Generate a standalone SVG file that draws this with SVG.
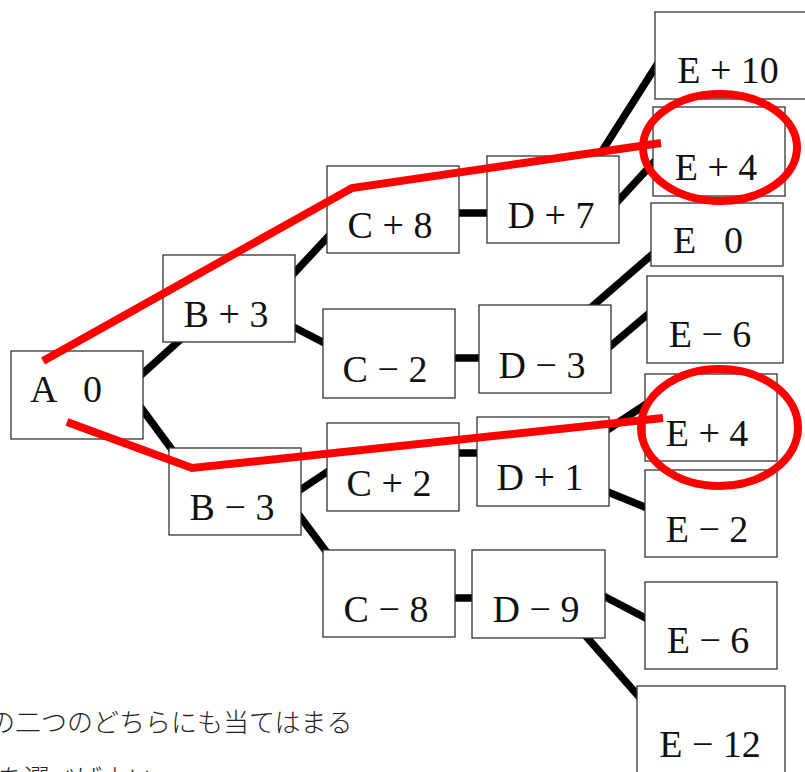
<svg xmlns="http://www.w3.org/2000/svg" width="805" height="772" viewBox="0 0 805 772">
<style>
.box{fill:#fff;stroke:#333;stroke-width:1.3}
.lbl{font-family:"Liberation Serif","Noto Sans CJK JP",serif;font-size:38px;fill:#111;text-anchor:middle}
.lbl0{font-family:"Liberation Serif","Noto Sans CJK JP",serif;font-size:38px;fill:#111}
.con line{stroke:#000;stroke-width:7.5}
.red{fill:none;stroke:#ff0000;stroke-width:8}
.jp{font-family:"Noto Sans CJK JP",sans-serif;font-size:26px;fill:#222;font-weight:300}
</style>
<g id="connectors" class="con">
<line x1="130" y1="385" x2="190" y2="331"/>
<line x1="131" y1="394" x2="184" y2="466"/>
<line x1="283" y1="285" x2="339" y2="225"/>
<line x1="280" y1="320" x2="338" y2="350"/>
<line x1="450" y1="213" x2="495" y2="213"/>
<line x1="445" y1="358" x2="490" y2="358"/>
<line x1="590" y1="170" x2="665" y2="52"/>
<line x1="607" y1="213" x2="665" y2="150"/>
<line x1="580" y1="317" x2="662" y2="246"/>
<line x1="600" y1="355" x2="660" y2="304"/>
<line x1="288" y1="498" x2="339" y2="464"/>
<line x1="290" y1="503" x2="334" y2="562"/>
<line x1="450" y1="453" x2="485" y2="453"/>
<line x1="598" y1="436" x2="657" y2="397"/>
<line x1="598" y1="488" x2="657" y2="512"/>
<line x1="445" y1="598" x2="480" y2="598"/>
<line x1="594" y1="591" x2="657" y2="624"/>
<line x1="577" y1="626" x2="648" y2="707"/>
</g>
<g id="nA"><rect class="box" x="11" y="351" width="132" height="88"/><text class="lbl0" y="402"><tspan x="30">A</tspan><tspan x="83">0</tspan></text></g>
<g id="nBp3"><rect class="box" x="163" y="255" width="132" height="87"/><text class="lbl" x="226" y="327">B + 3</text></g>
<g id="nBm3"><rect class="box" x="169" y="448" width="132" height="87"/><text class="lbl" x="232" y="520">B − 3</text></g>
<g id="nCp8"><rect class="box" x="327" y="166" width="132" height="87"/><text class="lbl" x="390" y="238">C + 8</text></g>
<g id="nCm2"><rect class="box" x="323" y="309" width="132" height="89"/><text class="lbl" x="385" y="382">C − 2</text></g>
<g id="nCp2"><rect class="box" x="327" y="423" width="132" height="88"/><text class="lbl" x="389" y="496">C + 2</text></g>
<g id="nCm8"><rect class="box" x="323" y="550" width="132" height="87"/><text class="lbl" x="386" y="622">C − 8</text></g>
<g id="nDp7"><rect class="box" x="487" y="156" width="132" height="87"/><text class="lbl" x="551" y="228">D + 7</text></g>
<g id="nDm3"><rect class="box" x="479" y="305" width="132" height="88"/><text class="lbl" x="542" y="378">D − 3</text></g>
<g id="nDp1"><rect class="box" x="477" y="417" width="132" height="89"/><text class="lbl" x="540" y="490">D + 1</text></g>
<g id="nDm9"><rect class="box" x="472" y="550" width="133" height="88"/><text class="lbl" x="536" y="622">D − 9</text></g>
<g id="nEp10"><rect class="box" x="655" y="12" width="152" height="87"/><text class="lbl" x="728" y="83">E + 10</text></g>
<g id="nEp4a"><rect class="box" x="653" y="107" width="132" height="89"/><text class="lbl" x="716" y="180">E + 4</text></g>
<g id="nE0"><rect class="box" x="651" y="203" width="132" height="63"/><text class="lbl0" y="253"><tspan x="673">E</tspan><tspan x="724">0</tspan></text></g>
<g id="nEm6a"><rect class="box" x="647" y="276" width="136" height="87"/><text class="lbl" x="710" y="347">E − 6</text></g>
<g id="nEp4b"><rect class="box" x="645" y="374" width="132" height="87"/><text class="lbl" x="707" y="446">E + 4</text></g>
<g id="nEm2"><rect class="box" x="645" y="470" width="132" height="87"/><text class="lbl" x="707" y="542">E − 2</text></g>
<g id="nEm6b"><rect class="box" x="645" y="582" width="132" height="87"/><text class="lbl" x="708" y="653">E − 6</text></g>
<g id="nEm12"><rect class="box" x="637" y="686" width="148" height="100"/><text class="lbl" x="710" y="757">E − 12</text></g>
<g id="annotations">
<polyline class="red" points="43,361 352,188 661,143"/>
<polyline class="red" points="67,422 192,468 663,418"/>
<ellipse class="red" cx="720" cy="147.5" rx="77" ry="53.5"/>
<ellipse class="red" cx="719.5" cy="427.5" rx="78.5" ry="58.5"/>
</g>
<g id="caption">
<text class="jp" x="-11" y="732">の二つのどちらにも当てはまる</text>
<text class="jp" x="-2" y="788">を選べばよい</text>
</g>
</svg>
